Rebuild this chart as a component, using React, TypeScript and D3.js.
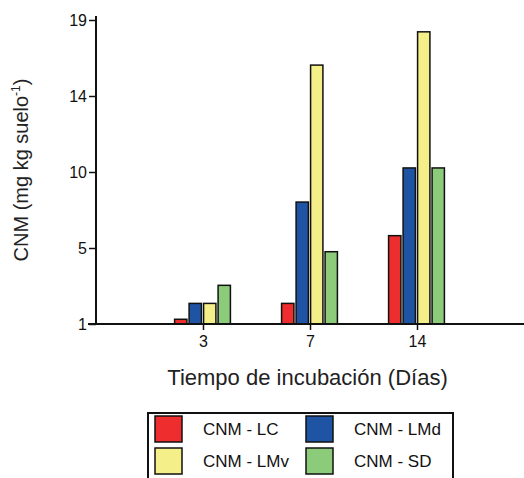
import React, { useEffect, useRef } from 'react';
import * as d3 from 'd3';

// Data
const days = ['3', '7', '14'];
const seriesNames = ['CNM - LC', 'CNM - LMd', 'CNM - LMv', 'CNM - SD'];
const valuesLC = [1.28, 2.22, 6.23];
const valuesLMd = [2.22, 8.22, 10.24];
const valuesLMv = [2.22, 16.33, 18.3];
const valuesSD = [3.29, 5.28, 10.24];
const seriesColors = ['#ee2e2e', '#1f54a5', '#f4ef88', '#8ccb7a'];
const yTickValues = [1, 5.5, 10, 14.5, 19];
const yTickLabels = ['1', '5', '10', '14', '19'];

const App = () => {
  const svgRef = useRef<SVGSVGElement>(null);

  useEffect(() => {
    const svg = d3.select(svgRef.current);
    svg.selectAll('*').remove();

    const font = 'Liberation Sans, Arial, sans-serif';
    const allSeries = [valuesLC, valuesLMd, valuesLMv, valuesSD];

    const x0 = 96;
    const x1 = 524;
    const yBase = 324;
    const yTop = 20;

    const xScale = d3.scalePoint<string>().domain(days).range([x0, x1]).padding(1);
    const inner = d3
      .scaleBand<string>()
      .domain(seriesNames)
      .range([-29.5, 28.5])
      .paddingInner(0.15)
      .paddingOuter(0.075);
    const yScale = d3.scaleLinear().domain([1, 19]).range([yBase, yTop]);

    // Bars
    days.forEach((day, i) => {
      seriesNames.forEach((name, s) => {
        const v = allSeries[s][i];
        svg
          .append('rect')
          .attr('x', (xScale(day) as number) + (inner(name) as number))
          .attr('y', yScale(v))
          .attr('width', inner.bandwidth())
          .attr('height', yScale(1) - yScale(v))
          .attr('fill', seriesColors[s])
          .attr('stroke', '#111')
          .attr('stroke-width', 1.5);
      });
    });

    // Y axis
    const yAxis = svg
      .append('g')
      .attr('transform', `translate(${x0}, 0)`)
      .call(
        d3
          .axisLeft(yScale)
          .tickValues(yTickValues)
          .tickSize(7)
          .tickSizeOuter(0)
          .tickPadding(2)
          .tickFormat((_, i) => yTickLabels[i])
      );
    yAxis.select('.domain').attr('stroke', '#111').attr('stroke-width', 2).attr('d', `M0,${yTop - 4}V${yBase}`);
    yAxis.selectAll('.tick line').attr('stroke', '#111').attr('stroke-width', 1.5);
    yAxis
      .selectAll('.tick text')
      .attr('fill', '#111')
      .style('font-family', font)
      .style('font-size', '16px');

    // X axis
    const xAxis = svg
      .append('g')
      .attr('transform', `translate(0, ${yBase})`)
      .call(d3.axisBottom(xScale).tickSize(6).tickSizeOuter(0).tickPadding(6));
    xAxis.select('.domain').attr('stroke', '#111').attr('stroke-width', 2).attr('d', `M${x0 - 8},0H${x1}`);
    xAxis.selectAll('.tick line').attr('stroke', '#111').attr('stroke-width', 1.5);
    xAxis
      .selectAll('.tick text')
      .attr('fill', '#111')
      .style('font-family', font)
      .style('font-size', '16px');

    // Axis titles
    svg
      .append('text')
      .attr('x', 307.5)
      .attr('y', 385)
      .attr('text-anchor', 'middle')
      .style('font-family', font)
      .style('font-size', '22px')
      .attr('fill', '#222')
      .text('Tiempo de incubación (Días)');

    const yTitle = svg
      .append('text')
      .attr('transform', 'translate(28, 170) rotate(-90)')
      .attr('text-anchor', 'middle')
      .style('font-family', font)
      .style('font-size', '20px')
      .attr('fill', '#222');
    yTitle.append('tspan').text('CNM (mg kg suelo');
    yTitle.append('tspan').attr('dy', -8).style('font-size', '12px').text('-1');
    yTitle.append('tspan').attr('dy', 8).text(')');

    // Legend
    svg
      .append('rect')
      .attr('x', 148)
      .attr('y', 413)
      .attr('width', 305)
      .attr('height', 90)
      .attr('fill', 'none')
      .attr('stroke', '#111')
      .attr('stroke-width', 2);

    const legendPos = [
      { x: 155, y: 416 },
      { x: 306, y: 416 },
      { x: 155, y: 448 },
      { x: 306, y: 448 },
    ];
    seriesNames.forEach((name, s) => {
      const p = legendPos[s];
      svg
        .append('rect')
        .attr('x', p.x)
        .attr('y', p.y)
        .attr('width', 27)
        .attr('height', 26)
        .attr('fill', seriesColors[s])
        .attr('stroke', '#111')
        .attr('stroke-width', 1.5);
      svg
        .append('text')
        .attr('x', p.x + 48)
        .attr('y', p.y + 19)
        .style('font-family', font)
        .style('font-size', '17px')
        .attr('fill', '#111')
        .text(name);
    });
  }, []);

  return (
    <svg
      ref={svgRef}
      width={524}
      height={478}
      style={{ position: 'absolute', left: 0, top: 0, background: '#fff' }}
    ></svg>
  );
};

export default App;
